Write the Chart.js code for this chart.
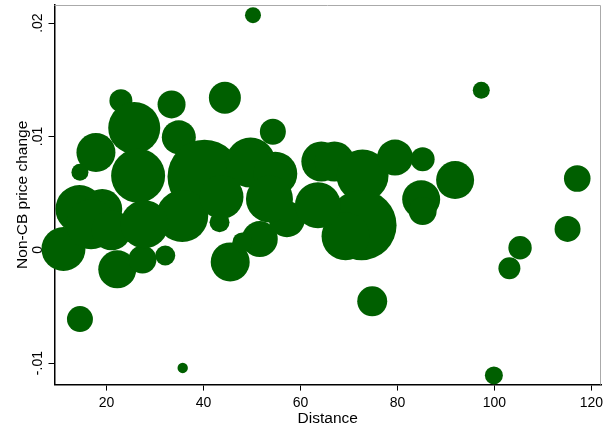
<!DOCTYPE html>
<html>
<head>
<meta charset="utf-8">
<script src="https://cdn.jsdelivr.net/npm/chart.js@4.4.1/dist/chart.umd.min.js"></script>
<style>
  html, body { margin: 0; padding: 0; background: #fff; }
  #wrap { width: 604px; height: 426px; }
</style>
</head>
<body>
<div id="wrap"><canvas id="chart" width="604" height="426"></canvas></div>
<script>
// data
const distance = [50.2, 97.3, 44.4, 22.95, 33.4, 25.7, 54.3, 34.9, 17.8, 14.5,
    26.5, 40.2, 49.7, 54.8, 64.3, 67.0, 72.8, 72.6, 69.3, 79.5,
    85.2, 91.9, 84.9, 85.2, 74.8, 35.7, 99.9, 103.1, 105.3, 115.1,
    117.1, 11.1, 22.2, 27.4, 32.1, 14.5, 35.6, 43.3, 45.5, 51.6,
    48.0, 57.2, 53.6, 63.6, 14.4, 19.1, 16.8, 21.0, 27.8, 43.7];
const priceChange = [0.0207, 0.01408, 0.01342, 0.01316, 0.01283, 0.01075, 0.01041, 0.00992, 0.00858, 0.00684,
    0.00653, 0.00644, 0.00769, 0.00671, 0.00778, 0.00778, 0.00655, 0.00217, 0.00119, 0.00814,
    0.00799, 0.00615, 0.00446, 0.00341, -0.00455, -0.01043, -0.01109, -0.00164, 0.00018, 0.00184,
    0.00629, 0.00007, -0.00173, -0.00086, -0.00051, -0.00612, 0.00297, 0.00243, -0.00107, 0.00094,
    0.00065, 0.0027, 0.00448, 0.00392, 0.00359, 0.00359, 0.00225, 0.00172, 0.00225, 0.00466];
const bubbleSize = [8, 8.5, 16, 11.5, 14, 26, 13, 17, 19.5, 8.5,
    27, 37, 25, 22, 20, 20, 26, 35, 24, 18,
    12, 19, 19, 14, 15, 5.2, 9, 11, 11.7, 13,
    13.3, 22, 19, 14, 10, 13, 26, 10, 19.5, 18,
    10, 18, 23.5, 23, 24, 20, 25, 20, 24, 22];

const xTicks = [20, 40, 60, 80, 100, 120];
const yTicks = [-0.01, 0, 0.01, 0.02];
const yTickLabels = ["-.01", "0", ".01", ".02"];

const green = "rgb(0,95,0)";
const font = "'Liberation Sans', Arial, sans-serif";

// thin frame on top and right of the plot region
const framePlugin = {
    id: "frame",
    afterDraw(chart) {
        const { ctx, chartArea: a } = chart;
        ctx.save();
        ctx.strokeStyle = "#aaa";
        ctx.lineWidth = 1;
        ctx.beginPath();
        ctx.moveTo(a.left, a.top + 0.5);
        ctx.lineTo(a.right - 0.5, a.top + 0.5);
        ctx.lineTo(a.right - 0.5, a.bottom);
        ctx.stroke();
        ctx.restore();
    }
};

const points = distance.map((x, i) => ({ x: x, y: priceChange[i], r: bubbleSize[i] }));

new Chart(document.getElementById("chart"), {
    type: "bubble",
    data: {
        datasets: [{
            data: points,
            backgroundColor: green,
            borderWidth: 0,
            hoverRadius: 0,
            clip: false
        }]
    },
    options: {
        responsive: false,
        animation: false,
        events: [],
        layout: { autoPadding: false, padding: { left: 15, right: 0, top: 5, bottom: 0 } },
        plugins: { legend: { display: false }, tooltip: { enabled: false } },
        scales: {
            x: {
                type: "linear",
                min: 9.25,
                max: 122,
                z: 1,
                afterBuildTicks: s => { s.ticks = xTicks.map(v => ({ value: v })); },
                afterFit: s => { s.paddingLeft = 0; s.paddingRight = 3; },
                grid: { drawOnChartArea: false, color: "#000", tickLength: 6, tickWidth: 1 },
                border: { color: "#000", width: 1.5 },
                ticks: { color: "#000", padding: 6, font: { family: font, size: 14, lineHeight: 1 } },
                title: { display: true, text: "Distance", color: "#000", padding: { top: -6.1, bottom: 0 },
                    font: { family: font, size: 15.5, lineHeight: 1 } }
            },
            y: {
                type: "linear",
                min: -0.0119,
                max: 0.0216,
                z: 1,
                afterBuildTicks: s => { s.ticks = yTicks.map(v => ({ value: v })); },
                afterFit: s => { s.paddingTop = 0; s.paddingBottom = 0; },
                grid: { drawOnChartArea: false, color: "#000", tickLength: 6, tickWidth: 1 },
                border: { color: "#000", width: 1.5 },
                ticks: {
                    color: "#000",
                    minRotation: 90,
                    maxRotation: 90,
                    crossAlign: "center",
                    padding: -2,
                    font: { family: font, size: 14, lineHeight: 1 },
                    callback: v => yTickLabels[yTicks.indexOf(v)]
                },
                title: { display: true, text: "Non-CB price change", color: "#000", padding: { top: 0, bottom: 8 },
                    font: { family: font, size: 15.5, lineHeight: 1 } }
            }
        }
    },
    plugins: [framePlugin]
});
</script>
</body>
</html>
